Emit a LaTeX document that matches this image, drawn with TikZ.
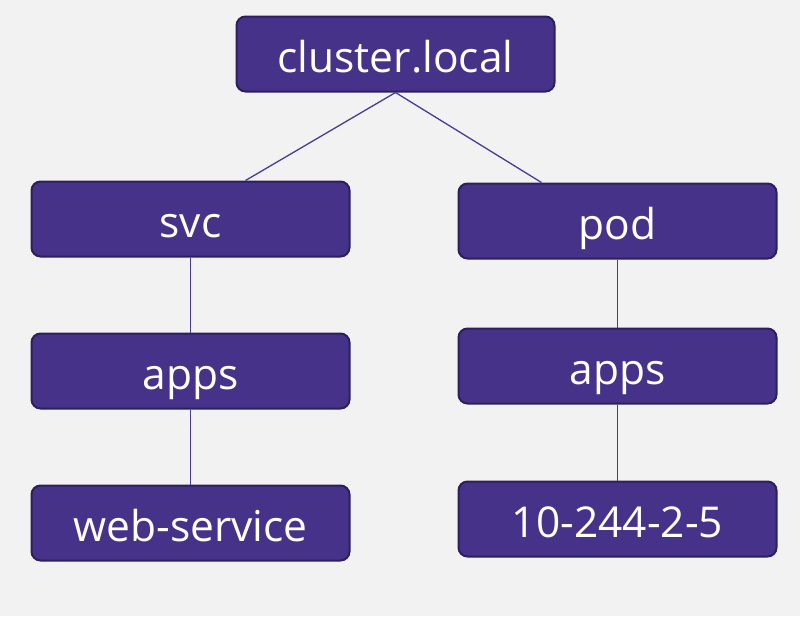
\documentclass[tikz,border=0pt]{standalone}
\usepackage{fontspec}
\setmainfont{Open Sans}
\definecolor{boxfill}{HTML}{463389}
\definecolor{boxline}{HTML}{2C1F5E}
\definecolor{linkline}{HTML}{4A3A98}
\definecolor{bgcol}{HTML}{F2F2F2}
\tikzstyle{box}=[draw=boxline,line width=2pt,fill=boxfill,rounded corners=9pt,
  minimum width=318pt,minimum height=75pt,inner sep=0pt,text=white,
  text height=37pt,text depth=0pt,
  font=\fontsize{42.5}{44}\selectfont]
\tikzstyle{link}=[draw=linkline,line width=1.3pt]

\begin{document}
\begin{tikzpicture}[x=1pt,y=-1pt]
  \fill[bgcol] (0,0) rectangle (800,616);
  \useasboundingbox (0,0) rectangle (800,616);
  \node[box] (cluster) at (395.5,54) {cluster.local};
  \node[box] (svc) at (190.5,219) {svc};
  \node[box] (pod) at (617.5,221) {pod};
  \node[box] (svcapps) at (190.5,371) {apps};
  \node[box] (podapps) at (617.5,366) {apps};
  \node[box] (websvc) at (190.5,523) {web-service};
  \node[box] (podip) at (617.5,519) {10-244-2-5};
  \draw[link] (cluster.south) -- ([xshift=55pt]svc.north);
  \draw[link] (cluster.south) -- ([xshift=-76pt]pod.north);
  \draw[link] (svc) -- (svcapps);
  \draw[link] (svcapps) -- (websvc);
  \draw[link] (pod) -- (podapps);
  \draw[link] (podapps) -- (podip);
\end{tikzpicture}
\end{document}
